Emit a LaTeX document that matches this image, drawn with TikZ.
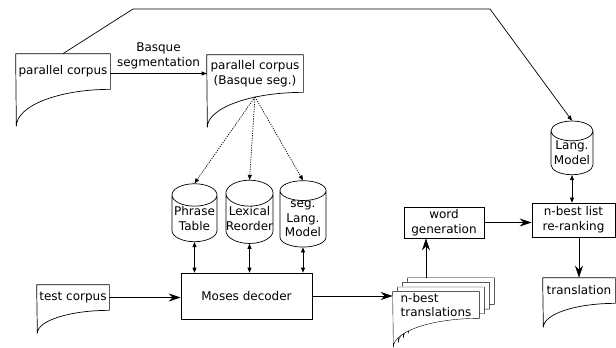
\documentclass[tikz,border=0pt]{standalone}
\usepackage{fontspec}
\setmainfont{DejaVu Sans}
\usetikzlibrary{shapes.geometric,arrows.meta,backgrounds}

\begin{document}
\begin{tikzpicture}[x=1pt,y=-1pt,
    every node/.style={font=\fontsize{12}{14.7}\selectfont, inner sep=0pt, align=center},
    doc/.style={rectangle},
    box/.style={rectangle, draw},
    cyl/.style={cylinder, shape border rotate=90, draw, aspect=0.55},
    big/.style={-{Stealth[length=12pt,width=8pt,inset=4pt]}},
    small/.style={-{Triangle[length=5pt,width=4pt]}},
    both/.style={{Triangle[length=5pt,width=4pt]}-{Triangle[length=5pt,width=4pt]}},
    line width=0.7pt]

  \useasboundingbox (0,0) rectangle (616,348);

  % documents
  \node[doc, minimum width=94pt, minimum height=35pt] (pc) at (63,71.5) {parallel corpus};
  \node[doc, minimum width=96pt, minimum height=37pt] (pcseg) at (255,73.5) {parallel corpus\\(Basque seg.)};
  \node[doc, minimum width=72pt, minimum height=25pt] (test) at (73,297.5) {test corpus};
  \node[doc, minimum width=72pt, minimum height=25pt] (trans) at (579,290.5) {translation};
  \node[doc, minimum width=86pt, minimum height=26pt, align=left] (nbest) at (436,305) {n-best\\translations};

  \foreach \n/\w/\d in {pc/94pt/37pt, pcseg/96pt/35pt, test/72pt/23pt, trans/72pt/24pt}
    \draw (\n.north west) -- (\n.north east) -- (\n.south east)
      arc[start angle=90, end angle=180, x radius=\w, y radius=\d] -- cycle;

  \begin{scope}[on background layer]
    \foreach \s in {15,10,5,0}
      \draw[fill=white] ([shift={(\s,-0.93*\s)}]nbest.north west)
        -- ([shift={(\s,-0.93*\s)}]nbest.north east)
        -- ([shift={(\s,-0.93*\s)}]nbest.south east)
        arc[start angle=90, end angle=180, x radius=86pt, y radius=29pt] -- cycle;
  \end{scope}

  % models
  \node[cyl, minimum width=45pt, minimum height=55pt] (pt) at (194.5,218.5) {Phrase\\Table};
  \node[cyl, minimum width=45pt, minimum height=55pt] (lr) at (249.5,218.5) {Lexical\\Reorder};
  \node[cyl, minimum width=46pt, minimum height=55pt] (slm) at (303,219) {seg.\\Lang.\\Model};
  \node[cyl, minimum width=42pt, minimum height=50pt] (lm) at (572,153) {Lang.\\Model};

  % processes
  \node[box, minimum width=131pt, minimum height=46pt] (moses) at (246.5,296) {Moses decoder};
  \node[box, minimum width=80pt, minimum height=31pt] (wg) at (444,222.5) {word\\generation};
  \node[box, minimum width=83pt, minimum height=34pt] (rr) at (573.5,220) {n-best list\\re-ranking};

  \coordinate (segout) at ([yshift=-4.5pt]pcseg.south);

  % connectors
  \draw[small] (pcseg.west -| pc.east) -- node[above=4pt] {Basque\\segmentation} (pcseg.west);
  \draw[small] (pc.north) -- (133,9) -- (490,9) -- (lm.north);
  \foreach \c in {pt,lr,slm}
    \draw[small, dash pattern=on 1.2pt off 1.2pt] (segout) -- (\c.north);
  \foreach \c in {pt,lr,slm}
    \draw[both] (\c.south) -- (\c.south |- moses.north);
  \draw[big] (test.east) -- (test.east -| moses.west);
  \draw[big] (moses.east) -- (moses.east -| nbest.west);
  \draw[big] ([shift={(-10,-14)}]nbest.north) -- ([xshift=-18pt]wg.south);
  \draw[big] (wg.east) -- (wg.east -| rr.west);
  \draw[both] (lm.south) -- (lm.south |- rr.north);
  \draw[big] (rr.south -| trans.north) -- (trans.north);
\end{tikzpicture}
\end{document}
